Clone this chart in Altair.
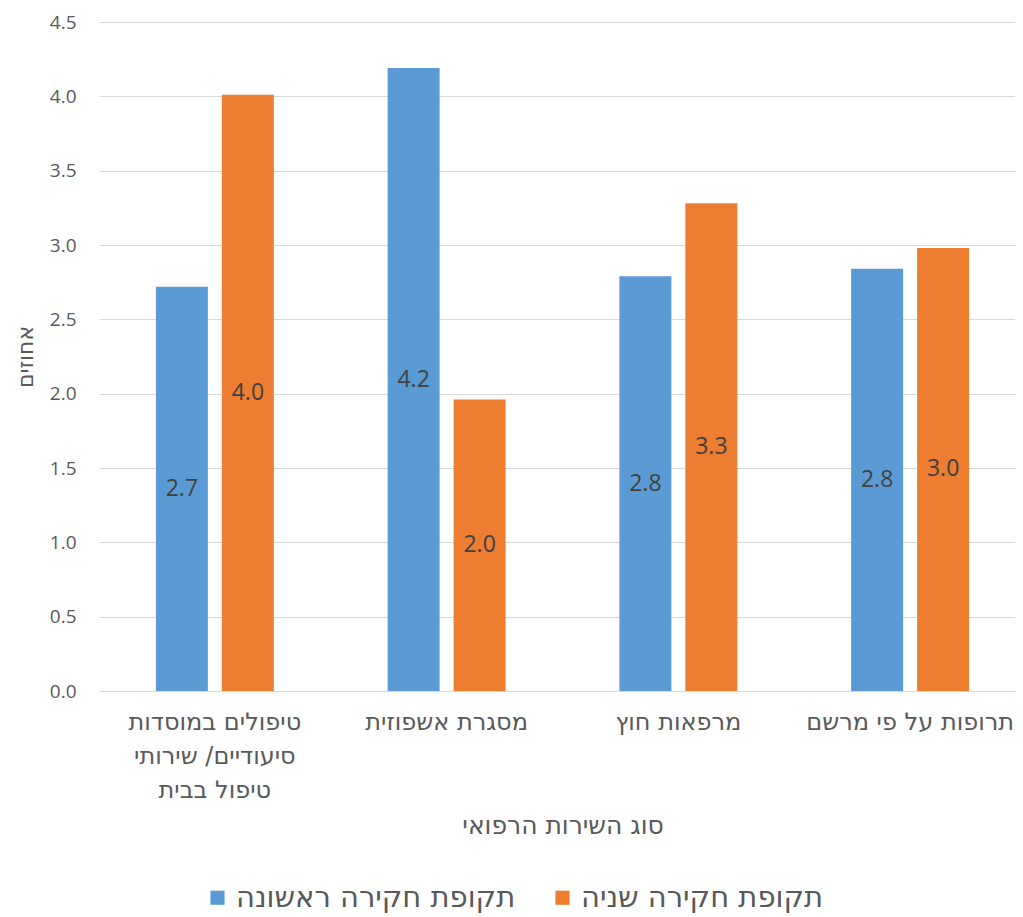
import altair as alt
import pandas as pd

categories = ["טיפולים במוסדות|סיעודיים/ שירותי|טיפול בבית", "מסגרת אשפוזית", "מרפאות חוץ", "תרופות על פי מרשם"]
series = ["תקופת חקירה ראשונה", "תקופת חקירה שניה"]
first_period = [2.72, 4.19, 2.79, 2.84]
second_period = [4.01, 1.96, 3.28, 2.98]
colors = ["#5B9BD5", "#ED7D31"]
y_ticks = [0, 0.5, 1, 1.5, 2, 2.5, 3, 3.5, 4, 4.5]

rows = []
for c, a, b in zip(categories, first_period, second_period):
    rows.append({"cat": c, "series": series[0], "value": a})
    rows.append({"cat": c, "series": series[1], "value": b})
df = pd.DataFrame(rows)

NUM_FONT = "Open Sans"
HEB_FONT = "DejaVu Sans"

x = alt.X("cat:N", sort=categories, title="סוג השירות הרפואי",
          scale=alt.Scale(paddingInner=0.491, paddingOuter=0.2455, range=[0, 927]),
          axis=alt.Axis(labelAngle=0, labelExpr="split(datum.value, '|')",
                        labelFont=HEB_FONT, labelFontSize=24, labelColor="#595959",
                        labelLineHeight=34, labelPadding=19, labelBaseline="top",
                        labelLimit=400,
                        titleFont=HEB_FONT, titleFontSize=25, titleColor="#595959",
                        titleFontWeight="normal", titlePadding=11,
                        domainColor="#d9d9d9", ticks=False, grid=False))
xo = alt.XOffset("series:N", sort=series, scale=alt.Scale(paddingInner=0.212, paddingOuter=0))
y = alt.Y("value:Q", title="אחוזים",
          scale=alt.Scale(domain=[0, 4.5], nice=False),
          axis=alt.Axis(values=y_ticks, format=".1f", labelFont=NUM_FONT, labelFontSize=19,
                        labelColor="#595959", labelPadding=23,
                        titleFont=HEB_FONT, titleFontSize=22, titleColor="#595959",
                        titleFontWeight="normal", titlePadding=12, domain=False, ticks=False,
                        gridColor="#d9d9d9", gridWidth=1))
color = alt.Color("series:N", sort=series, scale=alt.Scale(domain=series, range=colors),
                  legend=alt.Legend(title=None, orient="none", direction="horizontal",
                                    legendX=104, legendY=861, symbolType="square",
                                    symbolSize=200, symbolStrokeWidth=0,
                                    labelFont=HEB_FONT, labelFontSize=29,
                                    labelColor="#595959", columnPadding=32, labelLimit=400))

bars = alt.Chart(df).mark_bar().encode(x=x, xOffset=xo, y=y, color=color)
labels = alt.Chart(df).transform_calculate(mid="datum.value / 2").mark_text(
    fontSize=23, color="#404040", font=NUM_FONT
).encode(x=alt.X("cat:N", sort=categories), xOffset=xo,
         y=alt.Y("mid:Q"), text=alt.Text("value:Q", format=".1f"))

chart = alt.layer(bars, labels).properties(
    width=914, height=669,
    autosize=alt.AutoSizeParams(type="none"),
    padding={"left": 91, "top": 14, "right": 2, "bottom": 223}
).configure(font=NUM_FONT).configure_view(stroke=None)

chart.save("out.html", embed_options={"renderer": "svg", "actions": False})
